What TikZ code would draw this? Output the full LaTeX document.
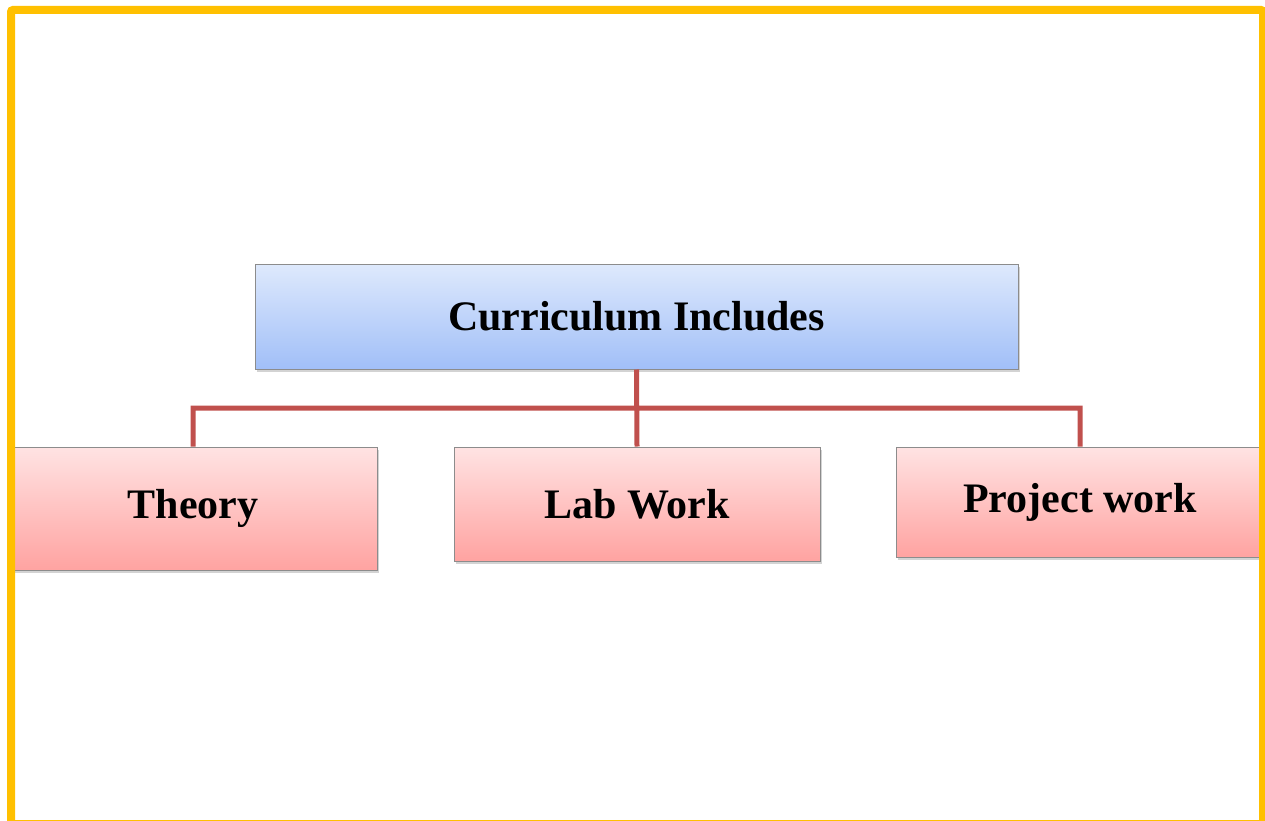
\documentclass[tikz,border=0pt]{standalone}
\usepackage{tikz}
\usepackage{xcolor}
\usepackage{fontspec}
\setmainfont{Liberation Serif}
\usetikzlibrary{positioning,shadows}

\definecolor{framegold}{HTML}{FFC000}
\definecolor{branchred}{HTML}{C0504D}
\definecolor{boxgrey}{HTML}{8C8C8C}
\definecolor{bluetop}{HTML}{DEE9FC}
\definecolor{bluebot}{HTML}{A1BFF8}
\definecolor{pinktop}{HTML}{FFE3E3}
\definecolor{pinkbot}{HTML}{FFA3A1}

\tikzset{
  box/.style={draw=boxgrey, line width=1pt, inner sep=0pt,
    font=\bfseries\fontsize{42}{50}\selectfont,
    drop shadow={shadow xshift=1.5pt, shadow yshift=-3pt, opacity=0.35}},
  headbox/.style={box, top color=bluetop, bottom color=bluebot},
  partbox/.style={box, top color=pinktop, bottom color=pinkbot},
  branch/.style={draw=branchred, line width=5pt}
}

\begin{document}
\begin{tikzpicture}[x=1pt,y=-1pt]
\clip (0,0) rectangle (1265,821);
\useasboundingbox (0,0) rectangle (1265,821);

\node[headbox, minimum width=763pt, minimum height=105pt] (c0) at (636.5,316.5) {Curriculum Includes};
\node[partbox, minimum width=368pt, minimum height=123pt] (c1) at (193,508.5) {Theory};
\node[partbox, minimum width=366pt, minimum height=114pt] (c2) at (637,504) {Lab Work};
\node[partbox, minimum width=368pt, minimum height=110pt] (c3) at (1080,502) {Project work};
\coordinate (j) at (636.5,408);

\draw[branch] (c0.south) -- (c2.north)
	  (c1.north) |- (j) -| (c3.north);

\draw[framegold, line width=8pt, rounded corners=2pt] (11,10) rectangle (1263,824);
\end{tikzpicture}
\end{document}
